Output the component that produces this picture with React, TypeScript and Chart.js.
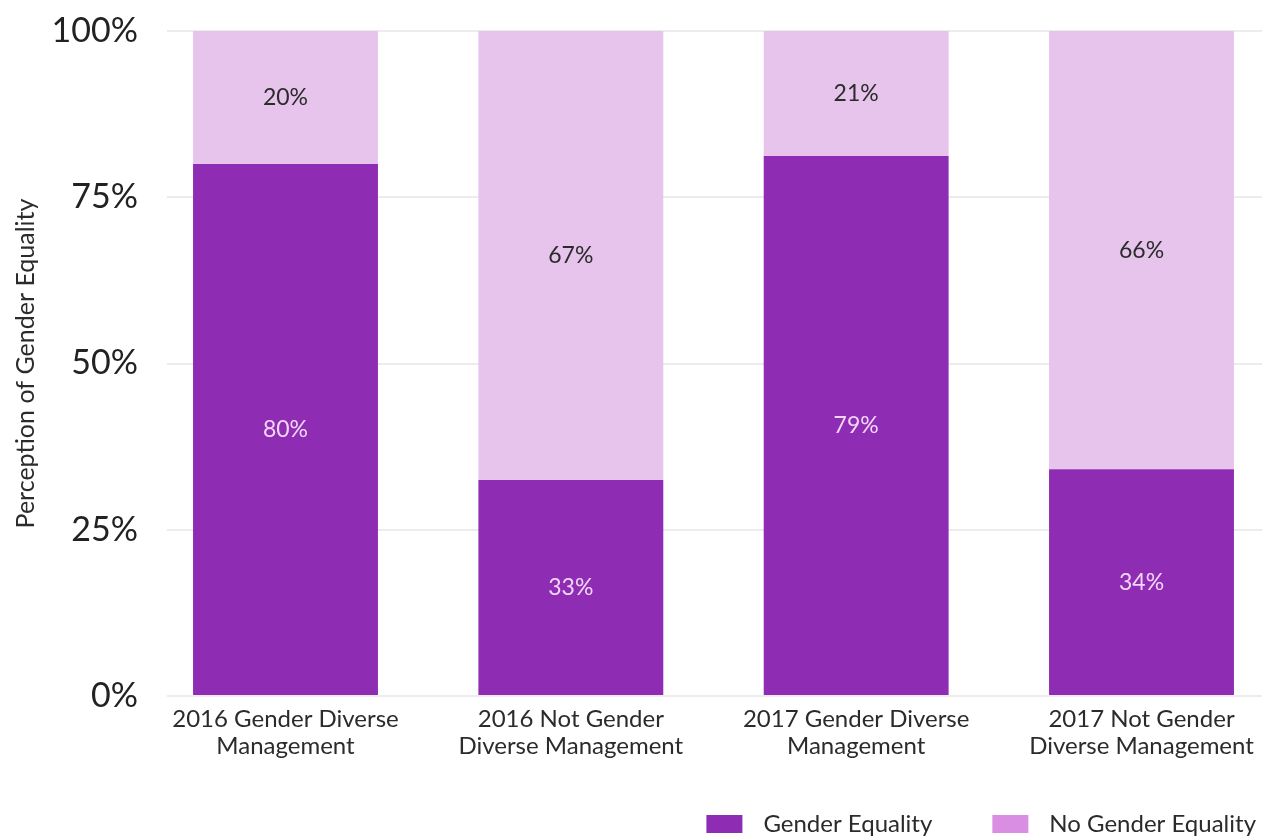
import React, { useEffect, useRef } from "react";
import { Chart, registerables } from "chart.js";

Chart.register(...registerables);

// ---- data ----
const categories: string[][] = [
  ["2016 Gender Diverse", "Management"],
  ["2016 Not Gender", "Diverse Management"],
  ["2017 Gender Diverse", "Management"],
  ["2017 Not Gender", "Diverse Management"],
];
const categoryPositions = [0, 1, 2, 3];
const seriesNames = ["Gender Equality", "No Gender Equality"];
const genderEquality = [80, 32.5, 81.2, 34.1];
const noGenderEquality = [20, 67.5, 18.8, 65.9];
const genderEqualityLabels = ["80%", "33%", "79%", "34%"];
const noGenderEqualityLabels = ["20%", "67%", "21%", "66%"];
const yTickValues = [0, 25, 50, 75, 100];

const DARK = "#8e2cb3";
const LIGHT = "#e6c4ec";
const LEGEND_LIGHT = "#d98ee3";
const FONT = "Lato, 'Noto Sans', sans-serif";

const segmentLabels = [genderEqualityLabels, noGenderEqualityLabels];
const segmentLabelColors = ["#f3d6f7", "#2b2b2b"];

const labelPlugin = {
  id: "segmentLabels",
  afterDatasetsDraw(chart: any) {
    const ctx = chart.ctx;
    ctx.save();
    ctx.font = `23px ${FONT}`;
    ctx.textAlign = "center";
    ctx.textBaseline = "middle";
    chart.data.datasets.forEach((_: any, di: number) => {
      const meta = chart.getDatasetMeta(di);
      meta.data.forEach((el: any, i: number) => {
        ctx.fillStyle = segmentLabelColors[di];
        ctx.fillText(segmentLabels[di][i], el.x, (el.y + el.base) / 2);
      });
    });
    ctx.restore();
  },
};

const legendPlugin = {
  id: "customLegend",
  afterDraw(chart: any) {
    const ctx = chart.ctx;
    ctx.save();
    ctx.font = `24px ${FONT}`;
    ctx.textBaseline = "middle";
    ctx.textAlign = "left";
    const boxW = 36;
    const boxH = 18;
    const gapBoxText = 21;
    const gapItems = 60;
    const rightEdge = 1256;
    const cy = 824;
    const colors = [DARK, LEGEND_LIGHT];
    const widths = seriesNames.map((n) => boxW + gapBoxText + ctx.measureText(n).width);
    const total = widths.reduce((a, b) => a + b, 0) + gapItems * (widths.length - 1);
    let x = rightEdge - total;
    seriesNames.forEach((n, i) => {
      ctx.fillStyle = colors[i];
      ctx.fillRect(x, cy - boxH / 2, boxW, boxH);
      ctx.fillStyle = "#2b2b2b";
      ctx.fillText(n, x + boxW + gapBoxText, cy);
      x += widths[i] + gapItems;
    });
    ctx.restore();
  },
};

export default function App() {
  const ref = useRef<HTMLCanvasElement | null>(null);
  useEffect(() => {
    if (!ref.current) return;
    const chart = new Chart(ref.current, {
      type: "bar",
      data: {
        datasets: [
          {
            label: seriesNames[0],
            data: categoryPositions.map((x, i) => ({ x, y: genderEquality[i] })),
            backgroundColor: DARK,
          },
          {
            label: seriesNames[1],
            data: categoryPositions.map((x, i) => ({ x, y: noGenderEquality[i] })),
            backgroundColor: LIGHT,
          },
        ],
      },
      options: {
        animation: false,
        responsive: false,
        categoryPercentage: 1,
        barPercentage: 0.648,
        layout: { padding: { top: 31, right: 7, left: 0, bottom: 0 } },
        plugins: {
          legend: { display: false },
          tooltip: { enabled: false },
        },
        scales: {
          x: {
            type: "linear",
            stacked: true,
            offset: false,
            min: -0.4153,
            max: 3.4223,
            grid: { display: false, offset: false },
            border: { display: false },
            afterBuildTicks: (s: any) => {
              s.ticks = categoryPositions.map((v) => ({ value: v }));
            },
            afterFit: (s: any) => {
              s.height = 141;
            },
            ticks: {
              callback: (v: any) => categories[v as number] ?? "",
              font: { family: FONT, size: 24, lineHeight: 1.125 },
              color: "#2b2b2b",
              padding: 2,
              maxRotation: 0,
              autoSkip: false,
            },
          },
          y: {
            stacked: true,
            min: 0,
            max: 100,
            afterBuildTicks: (s: any) => {
              s.ticks = yTickValues.map((v) => ({ value: v }));
            },
            afterFit: (s: any) => {
              s.width = 167;
              s.paddingTop = 0;
              s.paddingBottom = 0;
            },
            ticks: {
              callback: (v: any) => `${v}%`,
              font: { family: FONT, size: 34 },
              color: "#222",
              padding: 29,
            },
            grid: { color: "#ececec", lineWidth: 2, drawTicks: false },
            border: { display: false },
            title: {
              display: true,
              text: "Perception of Gender Equality",
              font: { family: FONT, size: 25 },
              color: "#2b2b2b",
              padding: { top: 11, bottom: 0 },
            },
          },
        },
      } as any,
      plugins: [labelPlugin, legendPlugin],
    });
    return () => chart.destroy();
  }, []);
  return (
    <div style={{ position: "fixed", left: 0, top: 0, width: 1269, height: 837, background: "#fff" }}>
      <canvas ref={ref} width={1269} height={837} style={{ display: "block" }} />
    </div>
  );
}
